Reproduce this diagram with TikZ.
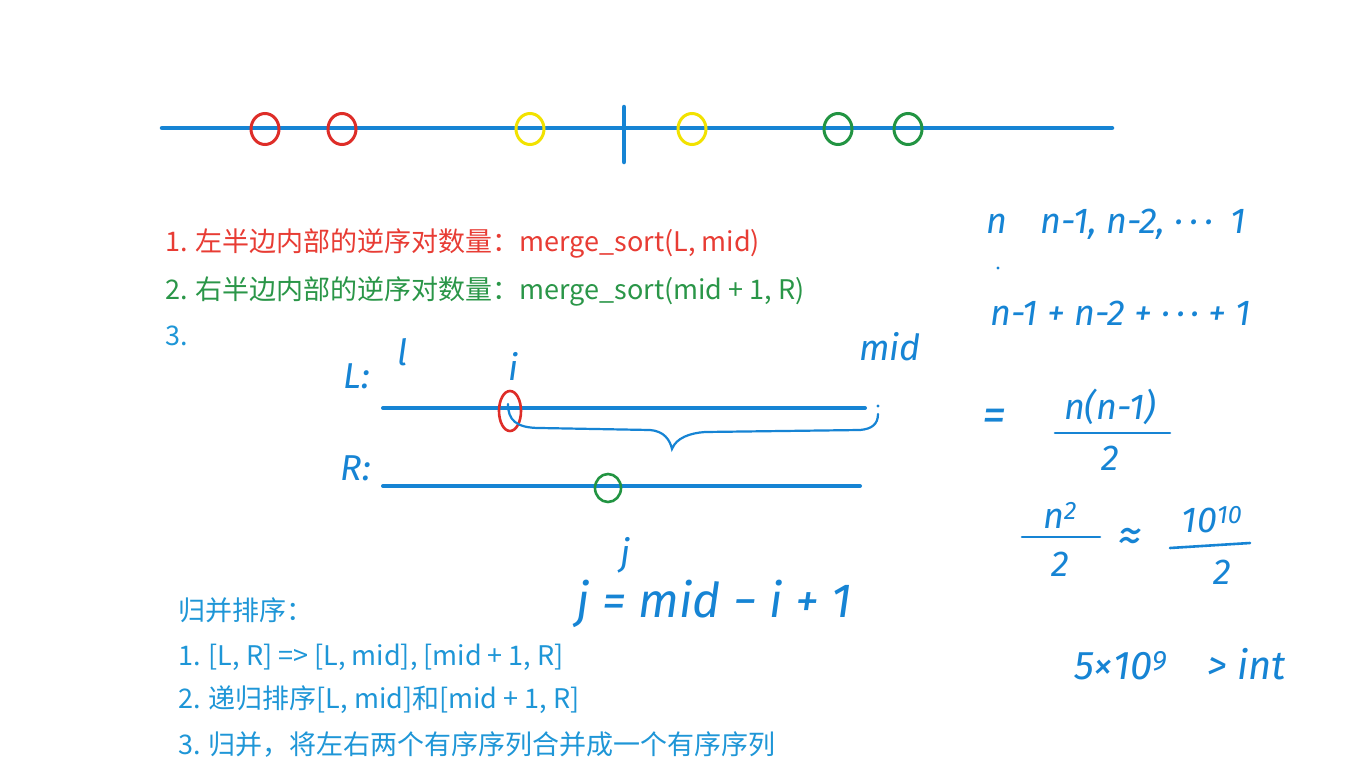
\documentclass[tikz,border=0pt]{standalone}
\usepackage{fontspec}
\usepackage{tikz}
\usetikzlibrary{arrows.meta}
\newfontfamily\cjk{Noto Sans CJK SC}
\newfontfamily\handfont{Fira Sans}
\definecolor{inkblue}{RGB}{22,132,212}
\definecolor{pred}{RGB}{222,45,40}
\definecolor{pyellow}{RGB}{242,226,0}
\definecolor{pgreen}{RGB}{34,148,66}
\definecolor{txtred}{RGB}{232,60,52}
\definecolor{txtgreen}{RGB}{42,150,72}
\definecolor{txtblue}{RGB}{30,150,215}
\tikzstyle{axis}=[draw=inkblue,line width=4.5pt,line cap=round]
\tikzstyle{ink}=[draw=inkblue,line width=2.6pt,line cap=round]
\tikzstyle{ptcircle}=[line width=3pt]
\tikzstyle{notetext}=[anchor=west,inner sep=0pt,font=\cjk\fontsize{27}{32}\selectfont]
\tikzstyle{hand}=[inner sep=0pt,text=inkblue,font=\handfont\itshape\fontsize{36}{42}\selectfont]
\tikzstyle{bighand}=[hand,font=\handfont\itshape\fontsize{48}{54}\selectfont]

\begin{document}
\begin{tikzpicture}[x=1pt,y=-1pt]
      \useasboundingbox[fill=white] (0,0) rectangle (1345,782);

      % number line with both halves
      \coordinate (axL) at (162,128);
      \coordinate (axR) at (1112,128);
      \coordinate (midT) at (624,107);
      \coordinate (midB) at (624,162);
      \draw[axis] (axL)--(axR);
      \draw[axis] (midT)--(midB);
      \foreach \x/\c in {265/pred,342/pred,530/pyellow,692/pyellow,838/pgreen,908/pgreen}
        \draw[ptcircle,draw=\c] (\x,129) ellipse (14 and 15.5);

      % typed notes
      \node[notetext,text=txtred] (q1) at (165,243) {1. 左半边内部的逆序对数量：merge\_sort(L, mid)};
      \node[notetext,text=txtgreen] (q2) at (165,291) {2. 右半边内部的逆序对数量：merge\_sort(mid + 1, R)};
      \node[notetext,text=txtblue] (q3) at (165,336) {3.};

      % the two halves
      \node[hand] (lbL) at (357,376) {L:};
      \node[hand] (lbl) at (403,352) {l};
      \node[hand] (lbi) at (514,366) {i};
      \node[hand] (lbmid) at (890,347) {mid};
      \node[hand] (lbR) at (356,468) {R:};
      \coordinate (Ls) at (383,408);
      \coordinate (Le) at (865,408);
      \coordinate (Rs) at (383,486);
      \coordinate (Re) at (860,486);
      \draw[axis,line width=4pt] (Ls)--(Le);
      \draw[axis,line width=4pt] (Rs)--(Re);
      \fill[inkblue] (878,406) circle (1.6);
      \draw[ptcircle,draw=pred,line width=2.6pt] (510,411) ellipse (11 and 20);
      \draw[ptcircle,draw=pgreen,line width=2.6pt] (608,488) ellipse (13 and 14);

      % brace from i to mid
      \draw[ink,line width=2.2pt] (508,404) .. controls (508,420) and (516,428) .. (540,428)
        -- (650,430) .. controls (664,431) and (670,440) .. (672,449)
        .. controls (676,438) and (690,433) .. (705,432) -- (860,430)
        .. controls (872,429) and (878,424) .. (878,414);

      \node[hand] (lbj) at (626,555) {j};
      \node[bighand] (eqj) at (714,604) {j = mid − i + 1};

      % counting on the right
      \node[hand,anchor=west] (seq1) at (986,224) {n\enspace\, n-1, n-2, ·\,·\,·\enspace 1};
      \fill[inkblue] (998,268) circle (1.6);
      \node[hand,anchor=west] (seq2) at (990,313) {n-1 + n-2 + ·\,·\,· + 1};
      \node[bighand] (eqs) at (994,420) {=};
      \node[hand] (num1) at (1110,407) {n(n-1)};
      \node[hand] (den1) at (1110,458) {2};
      \draw[ink] (1055,433)--(1170,433);
      \node[hand] (num2) at (1060,515) {n\textsuperscript{2}};
      \draw[ink] (1022,537)--(1100,537);
      \node[hand] (den2) at (1060,564) {2};
      \node[bighand] (apx) at (1130,540) {≈};
      \node[hand] (num3) at (1212,520) {10\textsuperscript{10}};
      \draw[ink] (1170,548)--(1250,543);
      \node[hand] (den3) at (1222,572) {2};
      \node[hand,font=\handfont\itshape\fontsize{40}{46}\selectfont] (bnd) at (1180,664) {5×10\textsuperscript{9}\quad > int};

      % merge sort steps
      \node[notetext,text=txtblue] (m0) at (178,610) {归并排序：};
      \node[notetext,text=txtblue] (m1) at (178,657) {1. [L, R] => [L, mid], [mid + 1, R]};
      \node[notetext,text=txtblue] (m2) at (178,700) {2. 递归排序[L, mid]和[mid + 1, R]};
      \node[notetext,text=txtblue] (m3) at (178,745) {3. 归并，将左右两个有序序列合并成一个有序序列};
    \end{tikzpicture}
\end{document}
